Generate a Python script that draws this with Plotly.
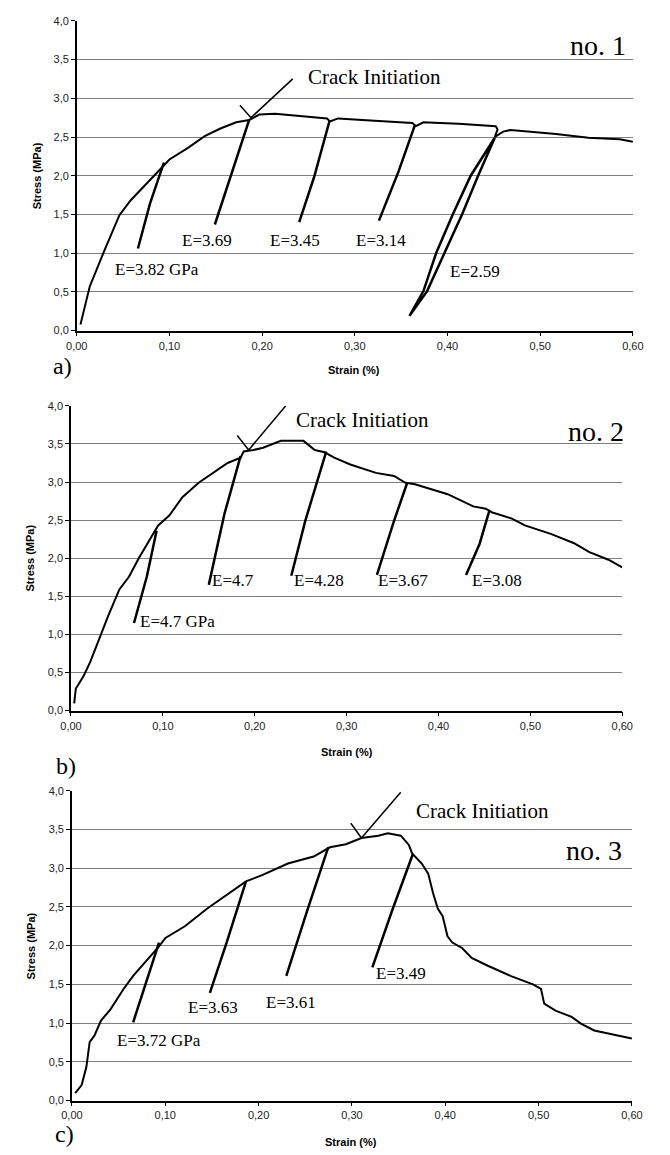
import plotly.graph_objects as go

W, H = 670, 1155

# ---------------- Data (strain %, stress MPa) ----------------
# Panel a) specimen no. 1
p1_env_x = [0.004, 0.014, 0.030, 0.046, 0.058, 0.075, 0.090, 0.096, 0.100, 0.120, 0.138, 0.155, 0.172,
            0.186, 0.197, 0.214, 0.242, 0.270, 0.273, 0.282, 0.308, 0.343, 0.362, 0.366, 0.374, 0.392,
            0.412, 0.452, 0.454, 0.451, 0.460, 0.468, 0.489, 0.517, 0.552, 0.586, 0.600]
p1_env_y = [0.08, 0.57, 1.04, 1.49, 1.68, 1.89, 2.08, 2.15, 2.21, 2.36, 2.51, 2.61, 2.69,
            2.72, 2.79, 2.80, 2.77, 2.74, 2.70, 2.74, 2.72, 2.70, 2.68, 2.64, 2.69, 2.68,
            2.67, 2.64, 2.60, 2.50, 2.57, 2.59, 2.57, 2.54, 2.49, 2.47, 2.44]
p1_unload_x = [[0.094, 0.079, 0.066],
               [0.186, 0.166, 0.149],
               [0.273, 0.256, 0.240],
               [0.365, 0.347, 0.326],
               [0.451, 0.433, 0.416, 0.397, 0.378, 0.359, 0.374, 0.388, 0.406, 0.425, 0.451]]
p1_unload_y = [[2.17, 1.64, 1.06],
               [2.72, 1.98, 1.37],
               [2.72, 1.98, 1.40],
               [2.66, 2.05, 1.42],
               [2.49, 2.00, 1.51, 1.01, 0.51, 0.19, 0.51, 1.01, 1.51, 2.00, 2.49]]
p1_crack_x = [0.176, 0.188, 0.233]
p1_crack_y = [2.91, 2.75, 3.25]
p1_E_labels = ["E=3.82 GPa", "E=3.69", "E=3.45", "E=3.14", "E=2.59"]

# Panel b) specimen no. 2
p2_env_x = [0.0035, 0.0053, 0.0088, 0.014, 0.021, 0.0316, 0.0404, 0.0527, 0.0633, 0.0738, 0.0861,
            0.0949, 0.107, 0.1213, 0.139, 0.1547, 0.1705, 0.1846, 0.188, 0.1986, 0.209, 0.2285,
            0.253, 0.2654, 0.276, 0.2865, 0.304, 0.332, 0.3516, 0.364, 0.3745, 0.41, 0.4378,
            0.4515, 0.4585, 0.464, 0.4799, 0.494, 0.5222, 0.547, 0.5643, 0.585, 0.600]
p2_env_y = [0.095, 0.29, 0.355, 0.46, 0.64, 0.98, 1.24, 1.59, 1.76, 2.00, 2.24,
            2.43, 2.56, 2.80, 2.99, 3.12, 3.25, 3.32, 3.40, 3.42, 3.45, 3.54,
            3.54, 3.42, 3.39, 3.32, 3.23, 3.12, 3.08, 2.99, 2.97, 2.84, 2.68,
            2.65, 2.60, 2.58, 2.52, 2.43, 2.32, 2.20, 2.08, 1.98, 1.88]
p2_unload_x = [[0.0932, 0.0826, 0.0686],
               [0.1846, 0.167, 0.150],
               [0.2778, 0.255, 0.2398],
               [0.3657, 0.3516, 0.333],
               [0.4553, 0.4448, 0.430]]
p2_unload_y = [[2.36, 1.76, 1.15],
               [3.34, 2.58, 1.65],
               [3.40, 2.49, 1.77],
               [2.98, 2.49, 1.78],
               [2.62, 2.19, 1.78]]
p2_crack_x = [0.181, 0.1934, 0.2338]
p2_crack_y = [3.61, 3.42, 4.00]
p2_E_labels = ["E=4.7 GPa", "E=4.7", "E=4.28", "E=3.67", "E=3.08"]

# Panel c) specimen no. 3
p3_env_x = [0.0035, 0.0104, 0.0155, 0.019, 0.0242, 0.031, 0.0415, 0.0553, 0.0656, 0.0794, 0.0933,
            0.1002, 0.121, 0.145, 0.169, 0.1865, 0.2038, 0.2314, 0.259, 0.2764, 0.2936, 0.3102,
            0.3282, 0.3386, 0.3524, 0.361, 0.3645, 0.3748, 0.3817, 0.3869, 0.392, 0.3972, 0.4024,
            0.4076, 0.418, 0.4283, 0.4456, 0.4698, 0.494, 0.5026, 0.506, 0.5181, 0.5354, 0.5458,
            0.5596, 0.5769, 0.600]
p3_env_y = [0.094, 0.20, 0.435, 0.755, 0.84, 1.03, 1.18, 1.44, 1.61, 1.80, 1.99,
            2.10, 2.25, 2.48, 2.68, 2.83, 2.91, 3.06, 3.15, 3.27, 3.31, 3.39,
            3.42, 3.45, 3.42, 3.30, 3.19, 3.06, 2.93, 2.68, 2.48, 2.38, 2.12,
            2.04, 1.97, 1.84, 1.74, 1.61, 1.50, 1.44, 1.25, 1.16, 1.08, 0.99,
            0.905, 0.86, 0.80]
p3_unload_x = [[0.0933, 0.079, 0.0656],
               [0.1865, 0.166, 0.1478],
               [0.2746, 0.252, 0.2297],
               [0.3655, 0.343, 0.3219]]
p3_unload_y = [[2.04, 1.50, 1.01],
               [2.83, 2.05, 1.39],
               [3.27, 2.45, 1.61],
               [3.19, 2.45, 1.72]]
p3_crack_x = [0.2988, 0.3102, 0.3523]
p3_crack_y = [3.58, 3.39, 3.98]
p3_E_labels = ["E=3.72 GPa", "E=3.63", "E=3.61", "E=3.49"]

panel_letters = ["a)", "b)", "c)"]
specimen_names = ["no. 1", "no. 2", "no. 3"]
crack_text = "Crack Initiation"

x_tickvals = [0.0, 0.1, 0.2, 0.3, 0.4, 0.5, 0.6]
x_ticktext = ["0,00", "0,10", "0,20", "0,30", "0,40", "0,50", "0,60"]
y_tickvals = [0.0, 0.5, 1.0, 1.5, 2.0, 2.5, 3.0, 3.5, 4.0]
y_ticktext = ["0,0", "0,5", "1,0", "1,5", "2,0", "2,5", "3,0", "3,5", "4,0"]
x_title = "Strain (%)"
y_title = "Stress (MPa)"

# ---------------- Layout geometry (pixels) ----------------
def px(x):
    return x / W

def py(y):
    return 1 - y / H

# plot area boxes: (left, right, top, bottom) in pixels
boxes = [(68, 643, 15, 328), (62, 632, 404, 712), (63, 642, 793, 1106)]

fig = go.Figure()

SERIF = "Liberation Serif, Times New Roman, serif"
SANS = "Liberation Sans, Arial, sans-serif"

panels = [
    (p1_env_x, p1_env_y, p1_unload_x, p1_unload_y, p1_crack_x, p1_crack_y),
    (p2_env_x, p2_env_y, p2_unload_x, p2_unload_y, p2_crack_x, p2_crack_y),
    (p3_env_x, p3_env_y, p3_unload_x, p3_unload_y, p3_crack_x, p3_crack_y),
]

for i, (ex, ey, ux, uy, cx, cy) in enumerate(panels):
    xa = "x" if i == 0 else f"x{i+1}"
    ya = "y" if i == 0 else f"y{i+1}"
    fig.add_trace(go.Scatter(x=ex, y=ey, mode="lines", xaxis=xa, yaxis=ya,
                             line=dict(color="black", width=2), showlegend=False,
                             cliponaxis=True))
    for bx, by in zip(ux, uy):
        fig.add_trace(go.Scatter(x=bx, y=by, mode="lines", xaxis=xa, yaxis=ya,
                                 line=dict(color="black", width=2.5), showlegend=False))
    fig.add_trace(go.Scatter(x=cx, y=cy, mode="lines", xaxis=xa, yaxis=ya,
                             line=dict(color="black", width=1.5), showlegend=False,
                             cliponaxis=False))

layout_axes = {}
for i, (l, r, t, b) in enumerate(boxes):
    xk = "xaxis" if i == 0 else f"xaxis{i+1}"
    yk = "yaxis" if i == 0 else f"yaxis{i+1}"
    yanchor = "y" if i == 0 else f"y{i+1}"
    xanchor = "x" if i == 0 else f"x{i+1}"
    layout_axes[xk] = dict(domain=[px(l), px(r)], range=[0, 0.6], anchor=yanchor,
                           tickvals=x_tickvals, ticktext=x_ticktext, showgrid=False,
                           zeroline=False, showline=True, linecolor="black", linewidth=1.5,
                           ticks="outside", ticklen=4, tickcolor="black",
                           tickfont=dict(family=SANS, size=11, color="#222"))
    layout_axes[yk] = dict(domain=[py(b), py(t)], range=[0, 4.0], anchor=xanchor,
                           tickvals=y_tickvals, ticktext=y_ticktext, showgrid=True,
                           gridcolor="#808080", gridwidth=1, zeroline=False,
                           showline=True, linecolor="black", linewidth=1.5,
                           ticks="outside", ticklen=4, tickcolor="black",
                           tickfont=dict(family=SANS, size=11, color="#222"))

ann = []
def text(s, x, y, size, family=SERIF, bold=False, angle=0):
    ann.append(dict(text=(f"<b>{s}</b>" if bold else s), x=px(x), y=py(y), xref="paper",
                    yref="paper", showarrow=False, xanchor="center", yanchor="middle",
                    textangle=angle, font=dict(family=family, size=size, color="black")))

# axis titles
axis_title_pos = [((355, 368), (27, 172)), ((347, 754), (20, 558)), ((352, 1148), (21, 950))]
for (sx, sy), (tx, ty) in axis_title_pos:
    text(x_title, sx, sy, 11, SANS, bold=True)
    text(y_title, tx, ty, 11, SANS, bold=True, angle=-90)

# panel letters and specimen names
letter_pos = [(53, 364), (57, 768), (55, 1140)]
name_pos = [(607, 40), (605, 430), (603, 853)]
crack_pos = [(376, 72), (363, 418), (488, 813)]
for k in range(3):
    text(panel_letters[k], *letter_pos[k], 24)
    text(specimen_names[k], *name_pos[k], 28)
    text(crack_text, *crack_pos[k], 21)

E_pos = [
    [(151, 266), (203, 237), (294, 237), (383, 237), (480, 268)],
    [(172, 622), (230, 581), (318, 581), (405, 581), (502, 581)],
    [(153, 1045), (209, 1012), (290, 1007), (403, 978)],
]
for labels, poss in zip([p1_E_labels, p2_E_labels, p3_E_labels], E_pos):
    for s, (x, y) in zip(labels, poss):
        text(s, x, y, 17)

fig.update_layout(width=W, height=H, margin=dict(l=0, r=0, t=0, b=0),
                  paper_bgcolor="white", plot_bgcolor="white", showlegend=False,
                  annotations=ann, **layout_axes)

fig.write_html("out.html")
